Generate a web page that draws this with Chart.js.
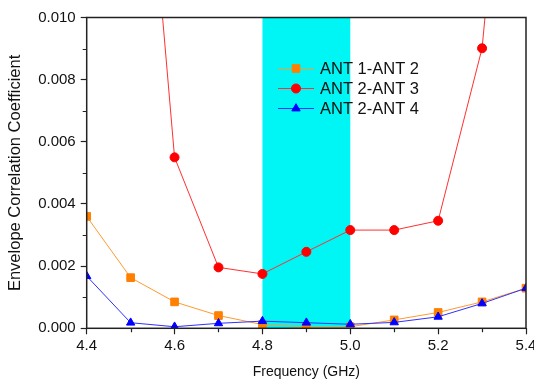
<!DOCTYPE html>
<html>
<head>
<meta charset="utf-8">
<script src="https://cdn.jsdelivr.net/npm/chart.js@4"></script>
<style>
  html, body { margin: 0; padding: 0; background: #fff; }
  #wrap { width: 534px; height: 383px; }
</style>
</head>
<body>
<div id="wrap"><canvas id="ecc" width="534" height="383"></canvas></div>
<script>
// frequency points (GHz)
const freq = [4.4, 4.5, 4.6, 4.7, 4.8, 4.9, 5.0, 5.1, 5.2, 5.3, 5.4];
// envelope correlation coefficient per antenna pair
const ant12 = [0.00360, 0.00163, 0.00085, 0.00041, 0.00012, 0.00005, 0.00005, 0.00027, 0.00051, 0.00085, 0.00129];
const ant23 = [0.0250, 0.0220, 0.00550, 0.00196, 0.00175, 0.00246, 0.00316, 0.00316, 0.00346, 0.00901, 0.0240];
const ant24 = [0.00168, 0.00018, 0.00005, 0.00016, 0.00023, 0.00018, 0.00013, 0.00019, 0.00037, 0.00080, 0.00129];
const seriesNames = ["ANT 1-ANT 2", "ANT 2-ANT 3", "ANT 2-ANT 4"];
const bandStart = 4.8, bandEnd = 5.0;

const FONT = "Arial, 'Liberation Sans', sans-serif";

function pts(arr) {
  return freq.map((f, i) => ({ x: f, y: arr[i] }));
}

// cyan operating band behind the curves
const bandPlugin = {
  id: "band",
  beforeDatasetsDraw(chart) {
    const { ctx, chartArea, scales } = chart;
    const x0 = scales.x.getPixelForValue(bandStart);
    const x1 = scales.x.getPixelForValue(bandEnd);
    ctx.save();
    ctx.fillStyle = "#00F5F5";
    ctx.fillRect(x0, chartArea.top, x1 - x0, chartArea.bottom - chartArea.top);
    ctx.restore();
  }
};

// frame, minor ticks, and the in-plot legend
const framePlugin = {
  id: "frame",
  afterDraw(chart) {
    const { ctx, chartArea, scales } = chart;
    ctx.save();
    ctx.strokeStyle = "#222";
    ctx.lineWidth = 1.5;
    ctx.strokeRect(chartArea.left, chartArea.top, chartArea.right - chartArea.left, chartArea.bottom - chartArea.top);

    // minor ticks
    ctx.lineWidth = 1.2;
    ctx.beginPath();
    for (let v = 0.001; v < 0.010; v += 0.002) {
      const y = Math.round(scales.y.getPixelForValue(v)) + 0.5;
      ctx.moveTo(chartArea.left - 4, y);
      ctx.lineTo(chartArea.left, y);
    }
    for (let f = 4.5; f < 5.4; f += 0.2) {
      const x = Math.round(scales.x.getPixelForValue(f)) + 0.5;
      ctx.moveTo(x, chartArea.bottom);
      ctx.lineTo(x, chartArea.bottom + 4);
    }
    ctx.stroke();

    // legend
    const lx = 278, rows = [68.5, 88.5, 108.5];
    chart.data.datasets.forEach((ds, i) => {
      const y = rows[i];
      ctx.strokeStyle = ds.borderColor;
      ctx.lineWidth = 1;
      ctx.beginPath();
      ctx.moveTo(lx, y);
      ctx.lineTo(lx + 36, y);
      ctx.stroke();
      ctx.fillStyle = ds.pointBackgroundColor;
      ctx.strokeStyle = ds.pointBackgroundColor;
      Chart.helpers.drawPoint(ctx, { pointStyle: ds.pointStyle, radius: ds.pointRadius, borderWidth: 1, rotation: 0 }, lx + 18, y);
      ctx.fillStyle = "#111";
      ctx.font = "16.5px " + FONT;
      ctx.textBaseline = "middle";
      ctx.fillText(seriesNames[i], lx + 42, y + 1);
    });
    ctx.restore();
  }
};

new Chart(document.getElementById("ecc"), {
  type: "line",
  data: {
    datasets: [
      {
        label: seriesNames[0], data: pts(ant12), order: 3,
        borderColor: "#FF9A30", borderWidth: 1, pointStyle: "rect", pointRadius: 5.4,
        pointBackgroundColor: "#FF8000", pointBorderColor: "#FF8000"
      },
      {
        label: seriesNames[1], data: pts(ant23), order: 2,
        borderColor: "#FF3030", borderWidth: 1, pointStyle: "circle", pointRadius: 4.5,
        pointBackgroundColor: "#FF0000", pointBorderColor: "#FF0000"
      },
      {
        label: seriesNames[2], data: pts(ant24), order: 1,
        borderColor: "#3030FF", borderWidth: 1, pointStyle: "triangle", pointRadius: 4.8,
        pointBackgroundColor: "#0000FF", pointBorderColor: "#0000FF"
      }
    ]
  },
  options: {
    responsive: false,
    animation: false,
    events: [],
    layout: { padding: { top: 17.5, right: 8, left: 0, bottom: 0 } },
    plugins: { legend: { display: false }, tooltip: { enabled: false } },
    scales: {
      x: {
        type: "linear", min: 4.4, max: 5.4,
        afterFit(scale) {
          scale.height = 383 - 328.3;
          scale.paddingLeft = 0;
          scale.paddingRight = 0;
        },
        ticks: {
          stepSize: 0.2, color: "#111", padding: 3,
          font: { family: FONT, size: 15 },
          callback: (v) => v.toFixed(1)
        },
        grid: { drawOnChartArea: false, tickLength: 6, tickColor: "#222", tickWidth: 1.2 },
        border: { display: false },
        title: {
          display: true, text: "Frequency (GHz)", color: "#111",
          font: { family: FONT, size: 14 }, padding: { top: 0, bottom: 2 }
        }
      },
      y: {
        min: 0, max: 0.010,
        afterFit(scale) {
          scale.width = 86.7;
          scale.paddingTop = 0;
          scale.paddingBottom = 0;
        },
        ticks: {
          stepSize: 0.002, color: "#111", padding: 5,
          font: { family: FONT, size: 15 },
          callback: (v) => v.toFixed(3)
        },
        grid: { drawOnChartArea: false, tickLength: 6, tickColor: "#222", tickWidth: 1.2 },
        border: { display: false },
        title: {
          display: true, text: "Envelope Correlation Coefficient", color: "#111",
          font: { family: FONT, size: 16.5 }, padding: { top: 6, bottom: 0 }
        }
      }
    }
  },
  plugins: [bandPlugin, framePlugin]
});
</script>
</body>
</html>
